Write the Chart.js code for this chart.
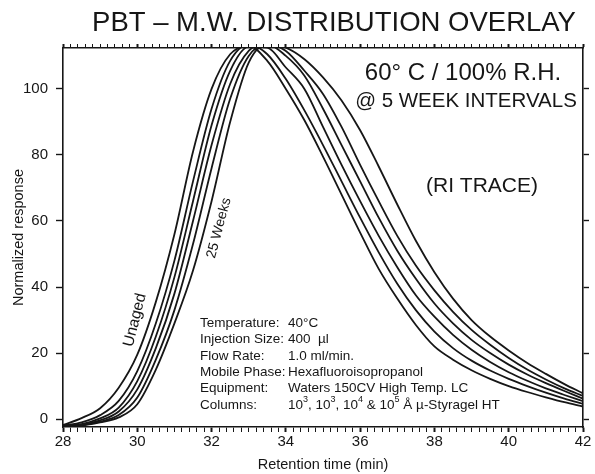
<!DOCTYPE html>
<html>
<head>
<meta charset="utf-8">
<script src="https://cdn.jsdelivr.net/npm/chart.js@4"></script>
<style>
  html, body { margin: 0; padding: 0; background: #fff; }
  #wrap { width: 595px; height: 474px; }
</style>
</head>
<body>
<div id="wrap"><canvas id="mwChart" width="595" height="474"></canvas></div>
<script>
// ── Données ────────────────────────────────────────────────────────────────

const RET_TIME = [28, 28.5, 29, 29.5, 30, 30.5, 31, 31.5, 32, 32.5, 33, 33.5, 34, 34.5, 35,
                  35.5, 36, 36.5, 37, 37.5, 38, 38.5, 39, 39.5, 40, 40.5, 41, 41.5, 42];

const UNAGED  = [-1.8, 0.3, 3.3, 9.5, 19.5, 35.5, 56, 81, 100, 110.5, 113, 108.5, 100, 90.5, 79.5,
                 68, 56.5, 45.5, 36.5, 28.5, 22, 18, 14.8, 12.2, 10, 8.2, 6.6, 5.1, 3.8];
const WEEK_5  = [-2, -1, 1.2, 5.5, 14.5, 29, 48, 72, 94, 108.5, 113.5, 110.5, 103, 93.5, 83,
                 72, 61, 50.5, 41, 33, 26.5, 21.5, 17.7, 14.7, 12.2, 10, 8, 6.2, 4.6];
const WEEK_10 = [-2, -1.5, 0.2, 3.5, 11.5, 25, 43, 66, 89, 105.5, 112.8, 112.5, 106.5, 100, 88.5,
                 77, 66, 55.5, 46, 37.5, 31, 25.5, 21, 17.3, 14.2, 11.6, 9.3, 7.3, 5.4];
const WEEK_15 = [-2, -1.7, -0.4, 2.3, 9, 21.5, 38, 60, 83, 101.5, 111.5, 113.5, 110, 104, 94,
                 83, 72, 61, 51, 42.5, 35, 29, 24, 20, 16.5, 13.5, 10.9, 8.5, 6.2];
const WEEK_20 = [-2, -1.8, -0.8, 1.2, 6.5, 18, 33, 53, 76, 97, 110, 113.5, 111.5, 105.5, 98.5,
                 88.5, 77, 66, 55.5, 46.5, 39, 32.5, 27, 22.5, 18.5, 15, 12, 9.3, 7];
const WEEK_25 = [-2, -1.9, -1, 0.5, 4.5, 15, 29, 45, 66, 90, 108, 113.5, 112.5, 109, 103.5,
                 96.5, 87.5, 76.5, 65, 54, 44.5, 36.5, 30, 25, 20.8, 17, 13.7, 10.6, 7.8];

const SERIES = [
  { label: 'Unaged',   values: UNAGED  },
  { label: '5 Weeks',  values: WEEK_5  },
  { label: '10 Weeks', values: WEEK_10 },
  { label: '15 Weeks', values: WEEK_15 },
  { label: '20 Weeks', values: WEEK_20 },
  { label: '25 Weeks', values: WEEK_25 },
];

const X_RANGE = [28, 42];
const Y_RANGE = [-2.4, 112.4];

const CONDITIONS = [
  ['Temperature:',   '40°C'],
  ['Injection Size:', '400  µl'],
  ['Flow Rate:',     '1.0 ml/min.'],
  ['Mobile Phase:',  'Hexafluoroisopropanol'],
  ['Equipment:',     'Waters 150CV High Temp. LC'],
];
// dernière ligne avec exposants : [texte, exposant?]
const COLUMNS_LINE = [['10', 0], ['3', 1], [', 10', 0], ['3', 1], [', 10', 0], ['4', 1],
                      [' & 10', 0], ['5', 1], [' Å µ-Styragel HT', 0]];

const FONT = '"Liberation Sans", Arial, Helvetica, sans-serif';
const INK  = '#161616';

// ── Textes dessinés sur le canvas ──────────────────────────────────────────

function put(ctx, txt, x, y, size, align = 'left', rot = 0) {
  ctx.save();
  ctx.font = `${size}px ${FONT}`;
  ctx.textAlign = align;
  ctx.translate(x, y);
  if (rot) ctx.rotate(rot * Math.PI / 180);
  ctx.fillText(txt, 0, 0);
  ctx.restore();
}

const annotate = {
  id: 'annotate',
  afterDraw(chart) {
    const { ctx } = chart;
    ctx.save();
    ctx.fillStyle = INK;
    ctx.textBaseline = 'middle';

    put(ctx, 'PBT – M.W. DISTRIBUTION OVERLAY', 334, 23, 27.5, 'center');
    put(ctx, '60° C / 100% R.H.', 463, 73, 24, 'center');
    put(ctx, '@ 5 WEEK INTERVALS', 466, 101, 20.5, 'center');
    put(ctx, '(RI TRACE)', 482, 186, 21, 'center');

    put(ctx, '25 Weeks', 219, 228, 14, 'center', -75);
    put(ctx, 'Unaged',   135, 320, 15.5, 'center', -76);

    const top = 323, step = 16.4;
    CONDITIONS.forEach(([k, v], i) => {
      put(ctx, k, 200, top + i * step, 13.5);
      put(ctx, v, 288, top + i * step, 13.5);
    });
    const yc = top + CONDITIONS.length * step;
    put(ctx, 'Columns:', 200, yc, 13.5);
    let x = 288;
    COLUMNS_LINE.forEach(([t, sup]) => {
      const size = sup ? 9 : 13.5;
      ctx.font = `${size}px ${FONT}`;
      put(ctx, t, x, sup ? yc - 5 : yc, size);
      x += ctx.measureText(t).width;
    });
    ctx.restore();
  },
};

// ── Graphique ──────────────────────────────────────────────────────────────

const isMajor = v => Math.abs(v - Math.round(v)) < 1e-6 && Math.round(v) % 2 === 0;
const tickFont = { family: FONT, size: 15 };

new Chart(document.getElementById('mwChart'), {
  type: 'line',
  data: {
    datasets: SERIES.map(s => ({
      label: s.label,
      data: RET_TIME.map((t, i) => ({ x: t, y: s.values[i] })),
      borderColor: INK,
      borderWidth: 1.8,
      pointRadius: 0,
      cubicInterpolationMode: 'monotone',
      fill: false,
    })),
  },
  options: {
    responsive: false, animation: false,
    layout: { padding: { top: 42, left: 0, right: 0, bottom: 0 } },
    plugins: { legend: { display: false }, tooltip: { enabled: false } },
    scales: {
      x: {
        type: 'linear', position: 'bottom', min: X_RANGE[0], max: X_RANGE[1],
        afterFit: s => { s.height = 47; },
        border: { color: INK, width: 1.6 },
        grid: { drawOnChartArea: false, tickLength: 5, tickColor: INK,
                tickWidth: c => isMajor(c.tick.value) ? 2 : 1 },
        ticks: { stepSize: 0.2, autoSkip: false, maxRotation: 0, padding: 1, color: INK, font: tickFont,
                 callback: v => isMajor(v) ? String(Math.round(v)) : '' },
        title: { display: true, text: 'Retention time (min)', color: INK,
                 font: { family: FONT, size: 14.5 }, padding: { top: 0, bottom: 0 } },
      },
      xTop: {
        type: 'linear', position: 'top', min: X_RANGE[0], max: X_RANGE[1],
        afterFit: s => { s.height = 6; },
        border: { color: INK, width: 1.6 },
        grid: { drawOnChartArea: false, tickLength: 4, tickColor: INK,
                tickWidth: c => isMajor(c.tick.value) ? 2 : 1 },
        ticks: { stepSize: 0.2, autoSkip: false, display: false },
      },
      y: {
        type: 'linear', position: 'left', min: Y_RANGE[0], max: Y_RANGE[1],
        afterFit: s => { s.width = 63; },
        border: { color: INK, width: 1.6 },
        grid: { drawOnChartArea: false, tickLength: 7, tickColor: INK, tickWidth: 1.4 },
        ticks: { stepSize: 20, includeBounds: false, padding: 8, color: INK, font: tickFont },
        title: { display: true, text: 'Normalized response', color: INK,
                 font: { family: FONT, size: 14.5 }, padding: { top: 10, bottom: 0 } },
      },
      yRight: {
        type: 'linear', position: 'right', min: Y_RANGE[0], max: Y_RANGE[1],
        afterFit: s => { s.width = 12; },
        border: { color: INK, width: 1.6 },
        grid: { drawOnChartArea: false, tickLength: 6, tickColor: INK, tickWidth: 1.4 },
        ticks: { stepSize: 20, includeBounds: false, display: false },
      },
    },
  },
  plugins: [annotate],
});
</script>
</body>
</html>
